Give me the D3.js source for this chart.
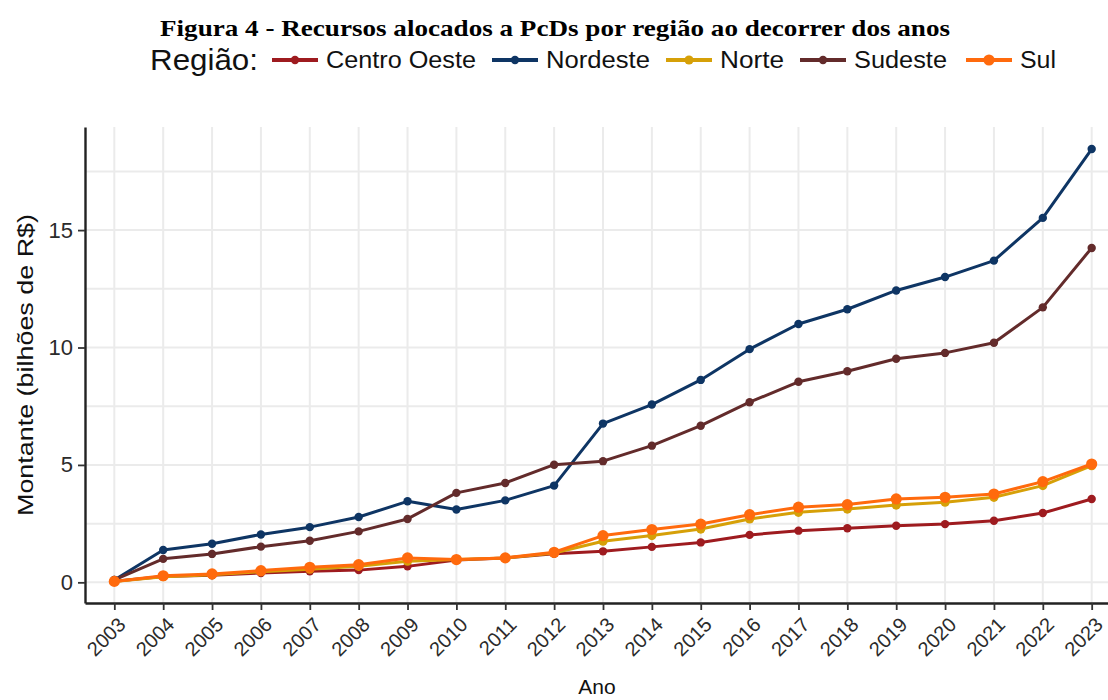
<!DOCTYPE html>
<html>
<head>
<meta charset="utf-8">
<script src="https://cdn.jsdelivr.net/npm/d3@7"></script>
<style>
  body { margin: 0; background: #fff; }
  text { font-family: "Liberation Sans", Arial, sans-serif; }
</style>
</head>
<body>
<div id="chart"></div>
<script>
// anos e valores (bilhões de R$)
const years = ["2003","2004","2005","2006","2007","2008","2009","2010","2011","2012","2013",
  "2014","2015","2016","2017","2018","2019","2020","2021","2022","2023"];

const centroOeste = [0.05,0.25,0.3,0.4,0.47,0.52,0.68,0.95,1.04,1.22,1.32,1.51,1.7,2.02,2.2,2.3,2.41,2.48,2.62,2.95,3.55];
const nordeste = [0.1,1.38,1.64,2.04,2.35,2.78,3.45,3.1,3.49,4.12,6.76,7.57,8.62,9.93,11.0,11.63,12.43,13.0,13.7,15.52,18.45];
const norte = [0.04,0.24,0.32,0.45,0.56,0.68,0.9,0.97,1.04,1.25,1.75,1.99,2.27,2.7,2.98,3.12,3.29,3.41,3.62,4.12,4.97];
const sudeste = [0.1,1.0,1.21,1.52,1.77,2.17,2.7,3.81,4.23,5.01,5.16,5.82,6.67,7.67,8.54,8.99,9.52,9.77,10.2,11.71,14.24];
const sul = [0.04,0.28,0.36,0.5,0.64,0.75,1.04,0.97,1.04,1.28,1.99,2.25,2.48,2.88,3.2,3.31,3.55,3.62,3.76,4.29,5.04];

const regions = ["Centro Oeste","Nordeste","Norte","Sudeste","Sul"];
const yTicks = [0, 5, 10, 15];

const series = [
  { name: "Centro Oeste", values: centroOeste, r: 4.2 },
  { name: "Nordeste", values: nordeste, r: 4.2 },
  { name: "Norte", values: norte, r: 4.6 },
  { name: "Sudeste", values: sudeste, r: 4.2 },
  { name: "Sul", values: sul, r: 5.6 }
];

const width = 1108, height = 700;
const panel = { left: 85, right: 1121, top: 127, bottom: 603 };

const color = d3.scaleOrdinal()
  .domain(regions)
  .range(["#9e1b1f", "#0e3564", "#d6a008", "#632b2b", "#ff6a0d"]);

const svg = d3.select("#chart").append("svg")
  .attr("width", width)
  .attr("height", height);

const x = d3.scalePoint()
  .domain(years)
  .range([panel.left, panel.right])
  .padding(0.6);

const y = d3.scaleLinear()
  .domain([-0.88, 19.39])
  .range([panel.bottom, panel.top]);

// grid
const grid = svg.append("g");
grid.selectAll("line.v")
  .data(years)
  .join("line")
  .attr("x1", d => x(d)).attr("x2", d => x(d))
  .attr("y1", panel.top).attr("y2", panel.bottom)
  .attr("stroke", "#ebebeb").attr("stroke-width", 2);

grid.selectAll("line.h")
  .data(d3.range(0, 19, 2.5))
  .join("line")
  .attr("x1", panel.left).attr("x2", panel.right)
  .attr("y1", d => y(d)).attr("y2", d => y(d))
  .attr("stroke", "#ebebeb").attr("stroke-width", 2);

// lines + points
const line = d3.line()
  .x((d, i) => x(years[i]))
  .y(d => y(d));

const g = svg.append("g")
  .selectAll("g")
  .data(series)
  .join("g");

g.append("path")
  .attr("d", d => line(d.values))
  .attr("fill", "none")
  .attr("stroke", d => color(d.name))
  .attr("stroke-width", 3)
  .attr("stroke-linejoin", "round");

g.selectAll("circle")
  .data(d => d.values.map((v, i) => ({ v, i, s: d })))
  .join("circle")
  .attr("cx", d => x(years[d.i]))
  .attr("cy", d => y(d.v))
  .attr("r", d => d.s.r)
  .attr("fill", d => color(d.s.name));

// axes
const yAxis = svg.append("g")
  .attr("transform", `translate(${panel.left},0)`)
  .call(d3.axisLeft(y).tickValues(yTicks).tickSize(7).tickSizeOuter(0).tickPadding(5));

const xAxis = svg.append("g")
  .attr("transform", `translate(0,${panel.bottom})`)
  .call(d3.axisBottom(x).tickSize(7).tickSizeOuter(0));

[yAxis, xAxis].forEach(ax => {
  ax.select(".domain").attr("stroke", "#222").attr("stroke-width", 2.4);
  ax.selectAll(".tick line").attr("stroke", "#333").attr("stroke-width", 1.8);
});

yAxis.selectAll(".tick text")
  .attr("font-size", 22)
  .attr("fill", "#2b2b2b");

xAxis.selectAll(".tick text")
  .attr("font-size", 20)
  .attr("fill", "#2b2b2b")
  .attr("text-anchor", "end")
  .attr("dy", null)
  .attr("y", null)
  .attr("transform", "translate(12,23) rotate(-45)");

// axis titles
svg.append("text")
  .attr("transform", `translate(33,${(panel.top + panel.bottom) / 2}) rotate(-90)`)
  .attr("text-anchor", "middle")
  .attr("font-size", 22)
  .attr("fill", "#111")
  .attr("textLength", 302)
  .attr("lengthAdjust", "spacingAndGlyphs")
  .text("Montante (bilhões de R$)");

svg.append("text")
  .attr("x", 597)
  .attr("y", 694)
  .attr("text-anchor", "middle")
  .attr("font-size", 21)
  .attr("fill", "#111")
  .text("Ano");

// title
svg.append("text")
  .attr("x", 160)
  .attr("y", 36)
  .style("font-family", "'Liberation Serif', 'Times New Roman', serif")
  .attr("font-weight", "bold")
  .attr("font-size", 24)
  .attr("fill", "#000")
  .attr("textLength", 790)
  .attr("lengthAdjust", "spacingAndGlyphs")
  .text("Figura 4 - Recursos alocados a PcDs por região ao decorrer dos anos");

// legend
const legend = svg.append("g");
legend.append("text")
  .attr("x", 150)
  .attr("y", 70)
  .attr("font-size", 29)
  .attr("fill", "#111")
  .attr("textLength", 108)
  .attr("lengthAdjust", "spacingAndGlyphs")
  .text("Região:");

const keyX = [272, 492, 666, 800, 966];
const labelW = [150, 104, 64, 93, 36];

const item = legend.selectAll("g.item")
  .data(regions)
  .join("g")
  .attr("transform", (d, i) => `translate(${keyX[i]},60)`);

item.append("line")
  .attr("x1", 0).attr("x2", 46)
  .attr("stroke", d => color(d))
  .attr("stroke-width", 4);

item.append("circle")
  .attr("cx", 23)
  .attr("r", (d, i) => series[i].r)
  .attr("fill", d => color(d));

item.append("text")
  .attr("x", 54)
  .attr("y", 8)
  .attr("font-size", 23)
  .attr("fill", "#111")
  .attr("textLength", (d, i) => labelW[i])
  .attr("lengthAdjust", "spacingAndGlyphs")
  .text(d => d);
</script>
</body>
</html>
